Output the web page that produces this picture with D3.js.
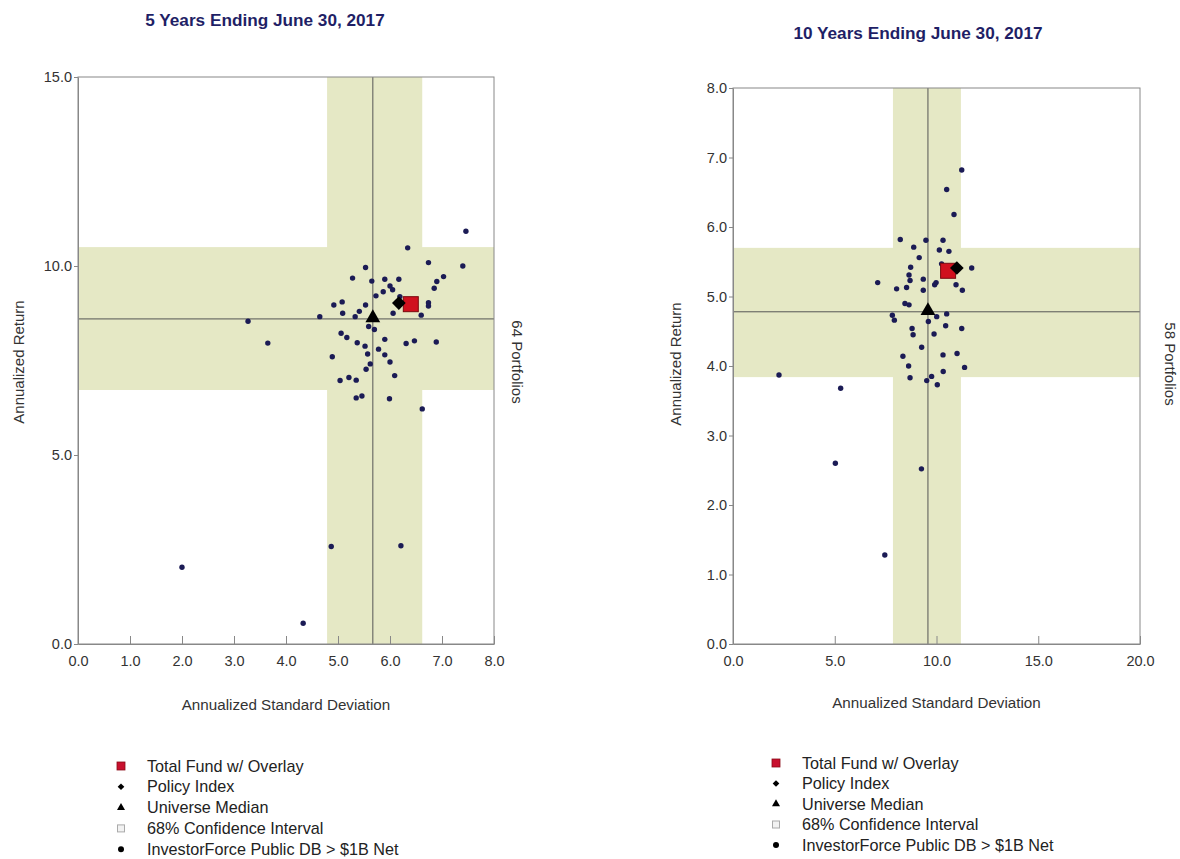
<!DOCTYPE html>
<html>
<head>
<meta charset="utf-8">
<script src="https://cdn.jsdelivr.net/npm/d3@7/dist/d3.min.js"></script>
<style>
  body { margin: 0; background: #fff; }
  svg { display: block; font-family: "Liberation Sans", Arial, sans-serif; }
</style>
</head>
<body>
<svg id="chart" width="1180" height="859"></svg>
<script>
// ---------- DATA ----------
// 5-year panel
const fiveTitle = "5 Years Ending June 30, 2017";
const fiveXTicks = [0, 1, 2, 3, 4, 5, 6, 7, 8];
const fiveYTicks = [0, 5, 10, 15];
const fiveRisk = [7.46, 6.34, 6.74, 7.40, 5.53, 5.28, 5.65, 5.90, 6.17, 7.03, 6.90, 6.85, 6.00, 6.05, 5.87, 5.73, 6.19,
  4.92, 5.08, 5.53, 6.74, 6.74, 5.09, 5.41, 5.33, 6.06, 6.60, 4.65, 5.59,
  5.70, 5.06, 5.17, 5.90, 5.37, 5.52, 6.31, 6.47, 6.89, 4.89, 5.57, 5.78, 5.90, 5.62, 6.00, 5.54, 6.09,
  5.04, 5.21, 5.35, 5.35, 5.46, 5.99, 6.62,
  3.27, 3.65, 2.00, 4.87, 6.21, 4.33];
const fiveReturn = [10.92, 10.48, 10.09, 10.00, 9.96, 9.68, 9.60, 9.65, 9.65, 9.72, 9.59, 9.41, 9.47, 9.37, 9.32, 9.21, 9.19,
  8.97, 9.05, 8.97, 9.03, 8.94, 8.75, 8.80, 8.66, 8.75, 8.70, 8.66, 8.40,
  8.32, 8.22, 8.11, 8.06, 7.97, 7.88, 7.95, 8.02, 7.99, 7.60, 7.67, 7.80, 7.65, 7.41, 7.46, 7.27, 7.10,
  6.97, 7.05, 6.98, 6.51, 6.56, 6.49, 6.22,
  8.54, 7.96, 2.03, 2.58, 2.60, 0.55];
const fiveCI = [4.79, 6.62, 6.72, 10.50];      // risk lo, risk hi, return lo, return hi
const fiveMedian = [5.67, 8.60];
const fiveFund = [6.40, 8.99];
const fivePolicy = [6.17, 9.02];
const fiveCount = "64 Portfolios";

// 10-year panel
const tenTitle = "10 Years Ending June 30, 2017";
const tenXTicks = [0, 5, 10, 15, 20];
const tenYTicks = [0, 1, 2, 3, 4, 5, 6, 7, 8];
const tenRisk = [11.24, 10.50, 10.86, 8.22, 9.48, 10.32, 8.88, 10.14, 10.61, 9.15, 8.73, 10.25,
  11.73, 8.65, 8.70, 9.35, 9.98, 9.91, 7.11, 8.04, 8.53, 9.35, 10.96, 11.27, 8.45, 8.65, 7.83, 7.93,
  9.60, 10.01, 10.50, 10.45, 11.24, 8.80, 8.85, 9.88, 9.27, 8.35, 10.32, 11.01, 8.63, 11.38, 10.33,
  8.70, 9.76, 9.52, 10.04,
  2.26, 5.29, 5.03, 9.26, 7.46];
const tenReturn = [6.82, 6.54, 6.18, 5.82, 5.81, 5.81, 5.71, 5.67, 5.65, 5.56, 5.42, 5.47,
  5.41, 5.31, 5.23, 5.25, 5.20, 5.17, 5.20, 5.11, 5.13, 5.09, 5.17, 5.09, 4.90, 4.88, 4.73, 4.66,
  4.64, 4.71, 4.75, 4.58, 4.54, 4.54, 4.45, 4.46, 4.27, 4.14, 4.16, 4.18, 4.00, 3.98, 3.92,
  3.83, 3.85, 3.79, 3.73,
  3.87, 3.68, 2.60, 2.52, 1.28];
const tenCI = [7.86, 11.20, 3.84, 5.70];
const tenMedian = [9.58, 4.78];
const tenFund = [10.57, 5.37];
const tenPolicy = [11.00, 5.41];
const tenCount = "58 Portfolios";

const legendLabels = ["Total Fund w/ Overlay", "Policy Index", "Universe Median",
  "68% Confidence Interval", "InvestorForce Public DB > $1B Net"];

// ---------- DRAW ----------
const svg = d3.select("#chart");
const bandColor = "#e5e8c5";
const dotColor = "#1b1b55";
const titleColor = "#1f1f66";
const textColor = "#333";

function panel(cfg) {
  const g = svg.append("g");
  const x = d3.scaleLinear().domain(cfg.xDomain).range([cfg.left, cfg.right]);
  const y = d3.scaleLinear().domain(cfg.yDomain).range([cfg.bottom, cfg.top]);

  // title
  g.append("text").attr("x", cfg.titleX).attr("y", cfg.titleY)
    .attr("text-anchor", "middle").attr("font-weight", "bold").attr("font-size", 17.2)
    .attr("fill", titleColor).text(cfg.title);

  // confidence bands
  g.append("rect").attr("x", x(cfg.ci[0])).attr("width", x(cfg.ci[1]) - x(cfg.ci[0]))
    .attr("y", cfg.top).attr("height", cfg.bottom - cfg.top).attr("fill", bandColor);
  g.append("rect").attr("x", cfg.left).attr("width", cfg.right - cfg.left)
    .attr("y", y(cfg.ci[3])).attr("height", y(cfg.ci[2]) - y(cfg.ci[3])).attr("fill", bandColor);

  // median cross lines
  g.append("line").attr("x1", x(cfg.median[0])).attr("x2", x(cfg.median[0]))
    .attr("y1", cfg.top).attr("y2", cfg.bottom).attr("stroke", "#555").attr("stroke-width", 1);
  g.append("line").attr("x1", cfg.left).attr("x2", cfg.right)
    .attr("y1", y(cfg.median[1])).attr("y2", y(cfg.median[1])).attr("stroke", "#555").attr("stroke-width", 1);

  // frame
  g.append("rect").attr("x", cfg.left).attr("y", cfg.top)
    .attr("width", cfg.right - cfg.left).attr("height", cfg.bottom - cfg.top)
    .attr("fill", "none").attr("stroke", "#888").attr("stroke-width", 1);

  // axes
  const xAxis = d3.axisBottom(x).tickValues(cfg.xTicks).tickFormat(d3.format(".1f"))
    .tickSizeInner(-8).tickSizeOuter(0).tickPadding(12);
  const xg = g.append("g").attr("transform", `translate(0,${cfg.bottom})`).call(xAxis);
  const yAxis = d3.axisLeft(y).tickValues(cfg.yTicks).tickFormat(d3.format(".1f"))
    .tickSizeInner(4).tickSizeOuter(0).tickPadding(2);
  const yg = g.append("g").attr("transform", `translate(${cfg.left},0)`).call(yAxis);
  [xg, yg].forEach(a => {
    a.select(".domain").attr("stroke", "#888");
    a.selectAll(".tick line").attr("stroke", "#888");
    a.selectAll(".tick text").attr("font-size", 14.5).attr("fill", textColor)
      .attr("font-family", "'Liberation Sans', Arial, sans-serif");
  });

  // axis titles
  g.append("text").attr("x", (cfg.left + cfg.right) / 2).attr("y", cfg.xLabelY)
    .attr("text-anchor", "middle").attr("font-size", 15.2).attr("fill", textColor)
    .text("Annualized Standard Deviation");
  g.append("text").attr("transform", `translate(${cfg.yLabelX},${cfg.yLabelMid}) rotate(-90)`)
    .attr("text-anchor", "middle").attr("font-size", 15).attr("fill", textColor)
    .text("Annualized Return");
  g.append("text").attr("transform", `translate(${cfg.countX},${cfg.yLabelMid}) rotate(90)`)
    .attr("text-anchor", "middle").attr("font-size", 15).attr("fill", textColor)
    .text(cfg.count);

  // universe dots
  const pts = cfg.risk.map((r, i) => [r, cfg.ret[i]]);
  g.append("g").selectAll("circle").data(pts).join("circle")
    .attr("cx", d => x(d[0])).attr("cy", d => y(d[1])).attr("r", 2.7).attr("fill", dotColor);

  // total fund square
  const sq = 15;
  g.append("rect").attr("x", x(cfg.fund[0]) - sq / 2).attr("y", y(cfg.fund[1]) - sq / 2)
    .attr("width", sq).attr("height", sq).attr("fill", "#d0101e").attr("stroke", "#7a0a10").attr("stroke-width", 1);
  // policy diamond
  g.append("path").attr("d", d3.symbol(d3.symbolDiamond2, 120)())
    .attr("transform", `translate(${x(cfg.policy[0])},${y(cfg.policy[1])})`)
    .attr("fill", "#000");
  // median triangle
  g.append("path").attr("d", d3.symbol(d3.symbolTriangle, 95)())
    .attr("transform", `translate(${x(cfg.median[0])},${y(cfg.median[1]) - 1})`)
    .attr("fill", "#000");

  // legend
  const lg = g.append("g");
  legendLabels.forEach((lab, i) => {
    const ly = cfg.legendY + i * cfg.legendStep;
    const mx = cfg.legendX;
    if (i === 0) {
      lg.append("rect").attr("x", mx - 4).attr("y", ly - 4).attr("width", 8).attr("height", 8)
        .attr("fill", "#c8102e").attr("stroke", "#8a0a18").attr("stroke-width", 0.8);
    } else if (i === 1) {
      lg.append("path").attr("d", d3.symbol(d3.symbolDiamond2, 28)())
        .attr("transform", `translate(${mx},${ly})`).attr("fill", "#000");
    } else if (i === 2) {
      lg.append("path").attr("d", d3.symbol(d3.symbolTriangle, 28)())
        .attr("transform", `translate(${mx},${ly})`).attr("fill", "#000");
    } else if (i === 3) {
      lg.append("rect").attr("x", mx - 3.5).attr("y", ly - 3.5).attr("width", 7).attr("height", 7)
        .attr("fill", "#f2f2f2").attr("stroke", "#aaa").attr("stroke-width", 1);
    } else {
      lg.append("circle").attr("cx", mx).attr("cy", ly).attr("r", 3).attr("fill", "#000");
    }
    lg.append("text").attr("x", mx + 26).attr("y", ly + 5.5).attr("font-size", 16.2)
      .attr("fill", "#222").text(lab);
  });
}

panel({
  title: fiveTitle, titleX: 265, titleY: 26,
  xDomain: [0, 8], yDomain: [0, 15], xTicks: fiveXTicks, yTicks: fiveYTicks,
  left: 78, right: 494, top: 77, bottom: 644,
  ci: fiveCI, median: fiveMedian, fund: fiveFund, policy: fivePolicy,
  risk: fiveRisk, ret: fiveReturn, count: fiveCount,
  xLabelY: 710, yLabelX: 24, yLabelMid: 362, countX: 512,
  legendX: 121, legendY: 766, legendStep: 20.8
});

panel({
  title: tenTitle, titleX: 918, titleY: 39,
  xDomain: [0, 20], yDomain: [0, 8], xTicks: tenXTicks, yTicks: tenYTicks,
  left: 733, right: 1140, top: 88, bottom: 644,
  ci: tenCI, median: tenMedian, fund: tenFund, policy: tenPolicy,
  risk: tenRisk, ret: tenReturn, count: tenCount,
  xLabelY: 708, yLabelX: 681, yLabelMid: 364, countX: 1165,
  legendX: 776, legendY: 763, legendStep: 20.5
});
</script>
</body>
</html>
